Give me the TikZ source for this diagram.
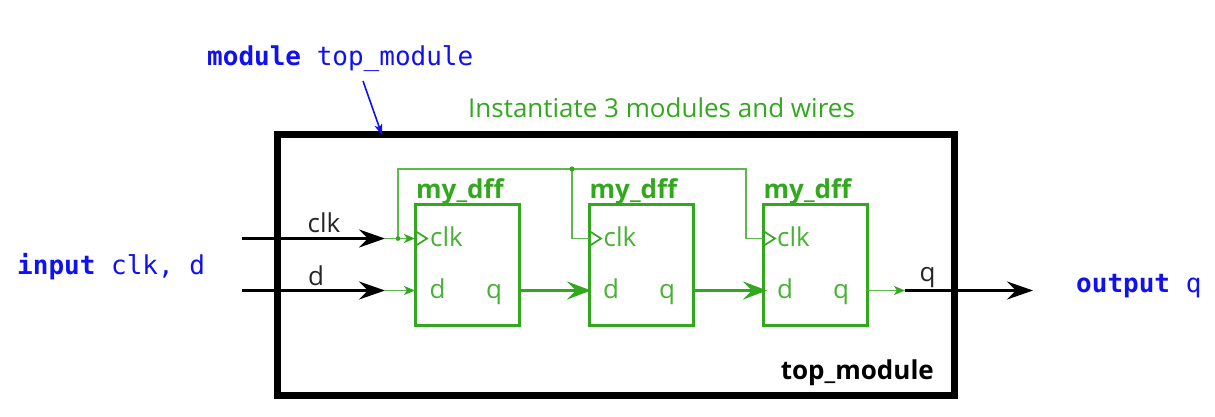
\documentclass[tikz,border=0pt]{standalone}
\usepackage{fontspec}
\setmainfont{Open Sans}
\newfontfamily\codefont{DejaVu Sans Mono}
\usetikzlibrary{arrows.meta,calc}
\definecolor{gr}{HTML}{33A81F}
\definecolor{bl}{HTML}{1010F0}
\tikzset{
 x=1pt,y=-1pt,
 lbl/.style={inner sep=0pt,font=\fontsize{26}{30}\selectfont},
 codelbl/.style={inner sep=0pt,text=bl,font=\codefont\fontsize{26}{30}\selectfont,anchor=base west},
 dff/.style={draw=gr,line width=3pt,outer sep=0pt,minimum width=104pt,minimum height=121pt,inner sep=0pt,anchor=north west},
 dfftitle/.style={lbl,text=gr,anchor=base,font=\bfseries\fontsize{26}{30}\selectfont},
 pin/.style={lbl,text=gr!90,anchor=base},
 blk/.style={lbl,text=black!85,anchor=base},
 thick wire/.style={draw=gr,line width=3pt,-{Stealth[length=24pt,width=18pt,inset=9pt]}},
 thin wire/.style={draw=gr!80,line width=1.9pt},
 small tip/.style={-{Stealth[length=11pt,width=9pt,inset=3pt,gr]}},
 blackarrow/.style={draw=black,line width=3pt,-{Stealth[length=26pt,width=18pt,inset=9pt]}},
 clocktri/.style={draw=gr,line width=1.7pt,line join=miter},
}
\begin{document}
\begin{tikzpicture}
\useasboundingbox (0,0) rectangle (1215,416);
% outer module
\node[draw=black,line width=6.5pt,outer sep=0pt,minimum width=677pt,minimum height=261pt,inner sep=0pt,anchor=north west] (top) at (277.5,134.5) {};
% flip-flops
\node[dff] (ffa) at (415.5,204) {};
\node[dff] (ffb) at (589.5,204) {};
\node[dff] (ffc) at (763.5,204) {};
\node[dfftitle] (ta) at (460,198) {my\_dff};
\node[dfftitle] (tb) at (633.5,198) {my\_dff};
\node[dfftitle] (tc) at (807.5,198) {my\_dff};
% pin labels
\foreach \n/\x in {a/446.5,b/620,c/793.5}{
 \node[pin] (clk\n) at (\x,246) {clk};
}
\foreach \n/\x in {a/437.5,b/611,c/785}{
 \node[pin] (d\n) at (\x,298) {d};
}
\foreach \n/\x in {a/494,b/667,c/841}{
 \node[pin] (q\n) at (\x,298) {q};
}
% coordinates
\coordinate (clkin) at (242,238.5);
\coordinate (dinn) at (242,290.5);
\coordinate (clkend) at (385,238.5);
\coordinate (dend) at (385,290.5);
\coordinate (qstart) at (905,290.5);
\coordinate (qout) at (1033,290.5);
\coordinate (ja) at (398,238.5);
\coordinate (jb) at (572,169);
\coordinate (pa) at (415,238.5);
\coordinate (pb) at (589,238.5);
\coordinate (pc) at (763,238.5);
\coordinate (pd) at (415,290.5);
\coordinate (qa) at (521,290.5);
\coordinate (db) at (591,290.5);
\coordinate (qb) at (695,290.5);
\coordinate (dc) at (767,290.5);
\coordinate (qc) at (868,290.5);
% green wires
\draw[thin wire] (ja) |- (746,169) |- (pc);
\draw[thin wire] (jb) |- (pb);
\draw[thin wire,small tip] (clkend) -- (pa);
\draw[thin wire,small tip] (dend) -- (pd);
\draw[thin wire,small tip] (qc) -- (qstart);
\fill[gr] (ja) circle (2.4pt) (jb) circle (2.6pt);
\draw[thick wire] (qa) -- (db);
\draw[thick wire] (qb) -- (dc);
% clock triangles
\foreach \c in {pa,pb,pc}{
 \draw[clocktri] ($(\c)+(1,-7)$) -- ($(\c)+(12,0)$) -- ($(\c)+(1,7)$);
}
% black wires
\draw[blackarrow] (clkin) -- (clkend);
\draw[blackarrow] (dinn) -- (dend);
\draw[blackarrow] (qstart) -- (qout);
\node[blk] (lclk) at (324,232) {clk};
\node[blk] (ld) at (316,285) {d};
\node[blk] (lq) at (927.5,281) {q};
\node[lbl,anchor=base east,font=\bfseries\fontsize{26}{30}\selectfont] (ltop) at (934,379) {top\_module};
% titles
\node[lbl,text=gr,anchor=base west] (inst) at (468,117) {Instantiate 3 modules and wires};
\node[codelbl] (mod) at (207,65) {\textbf{module} top\_module};
\node[codelbl] (inp) at (17,274) {\textbf{input} clk, d};
\node[codelbl] (outp) at (1076,292) {\textbf{output} q};
\coordinate (modend) at (363,81);
\coordinate (modtip) at (382,135);
\draw[draw=bl,line width=1.6pt,-{Stealth[length=11pt,width=8pt,inset=3pt]}] (modend) -- (modtip);
\end{tikzpicture}
\end{document}
